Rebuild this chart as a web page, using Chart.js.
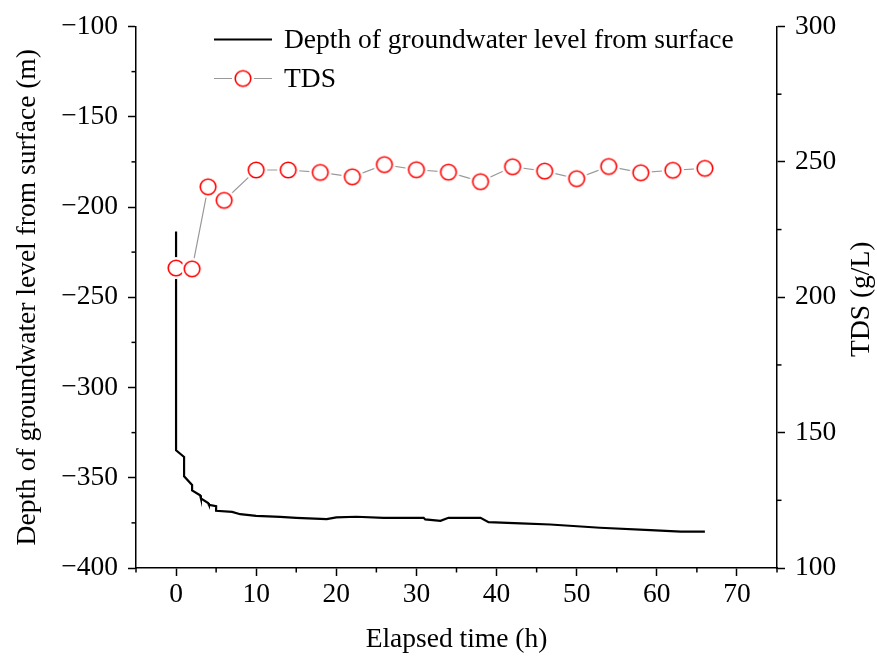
<!DOCTYPE html>
<html>
<head>
<meta charset="utf-8">
<script src="https://cdn.jsdelivr.net/npm/chart.js@4/dist/chart.umd.min.js"></script>
<style>
  html, body { margin: 0; padding: 0; background: #fff; }
  #wrap { width: 877px; height: 657px; }
</style>
</head>
<body>
<div id="wrap"><canvas id="c" width="877" height="657"></canvas></div>
<script>
// ---- Data ----
const depthTime  = [0, 0, 1, 1, 2, 2, 3, 3.1, 4, 4.1, 5, 5, 7, 8, 10, 13, 15, 18.8, 20, 22.5, 25.9, 30.9, 31.1, 33, 34, 38, 39, 43, 46.7, 52.9, 59.2, 63, 66];
const depthValue = [-213.6, -334.8, -338.5, -349.2, -354, -357, -359.7, -361.5, -364, -365, -365.7, -368.3, -368.9, -370.2, -371.1, -371.7, -372.2, -372.9, -372, -371.6, -372.2, -372.2, -373.1, -373.9, -372.2, -372.2, -374.6, -375.3, -375.9, -377.7, -379, -379.9, -379.9];

const tdsTime  = [0, 2, 4, 6, 10, 14, 18, 22, 26, 30, 34, 38, 42, 46, 50, 54, 58, 62, 66];
const tdsValue = [210.8, 210.5, 240.8, 235.8, 247.0, 247.0, 246.1, 244.5, 249.0, 247.1, 246.2, 242.7, 248.2, 246.6, 243.8, 248.3, 246.0, 246.9, 247.6];

const xTicks  = [0, 10, 20, 30, 40, 50, 60, 70];
const yTicks  = [-400, -350, -300, -250, -200, -150, -100];
const y1Ticks = [100, 150, 200, 250, 300];

const seriesNames = ['Depth of groundwater level from surface', 'TDS'];
const xTitle = 'Elapsed time (h)';
const yTitle = 'Depth of groundwater level from surface (m)';
const y1Title = 'TDS (g/L)';

const xRange = [-5, 75];
const yRange = [-400, -100];
const y1Range = [100, 300];

// ---- Styling ----
const FONT = '"Liberation Serif", "Times New Roman", serif';
const FS = 27.5;
const fmt = v => (v < 0 ? '\u2212' + Math.abs(v) : String(v));

// open red circle with a thin white halo (line stops short of the marker)
function makeMarker() {
  const c = document.createElement('canvas');
  const size = 24; c.width = size; c.height = size;
  const g = c.getContext('2d');
  g.beginPath(); g.arc(size / 2, size / 2, 11, 0, Math.PI * 2);
  g.fillStyle = '#fff'; g.fill();
  g.beginPath(); g.arc(size / 2, size / 2, 7.8, 0, Math.PI * 2);
  g.strokeStyle = '#ff0000'; g.lineWidth = 1.6; g.stroke();
  return c;
}
const marker = makeMarker();

const minorTicks = {
  id: 'minorTicks',
  afterDraw(chart) {
    const ctx = chart.ctx;
    ctx.save();
    ctx.strokeStyle = '#000';
    ctx.lineWidth = 1.5;
    const len = 4.5;
    const draw = (scale, majors, kind) => {
      const step = majors[1] - majors[0];
      for (let v = majors[0] - step / 2; v <= scale.max + 1e-9; v += step) {
        if (v < scale.min - 1e-9) continue;
        const p = scale.getPixelForValue(v);
        ctx.beginPath();
        if (kind === 'x') { ctx.moveTo(p, scale.top); ctx.lineTo(p, scale.top + len); }
        else if (kind === 'left') { ctx.moveTo(scale.right, p); ctx.lineTo(scale.right - len, p); }
        else { ctx.moveTo(scale.left, p); ctx.lineTo(scale.left + len, p); }
        ctx.stroke();
      }
    };
    draw(chart.scales.x, xTicks, 'x');
    draw(chart.scales.y, yTicks, 'left');
    draw(chart.scales.y1, y1Ticks, 'right');
    ctx.restore();
  }
};

const customText = {
  id: 'customText',
  afterDraw(chart) {
    const ctx = chart.ctx, a = chart.chartArea;
    ctx.save();
    ctx.font = FS + 'px ' + FONT;
    ctx.textBaseline = 'middle';
    ctx.textAlign = 'left';
    const lx0 = a.left + 78, lx1 = a.left + 136, tx = a.left + 148;
    const y1 = a.top + 13, y2 = a.top + 52;
    // legend item 1
    ctx.strokeStyle = '#000'; ctx.lineWidth = 2;
    ctx.beginPath(); ctx.moveTo(lx0, y1); ctx.lineTo(lx1, y1); ctx.stroke();
    ctx.fillStyle = '#000';
    ctx.fillText(seriesNames[0], tx, y1 + 1);
    // legend item 2
    ctx.strokeStyle = '#999'; ctx.lineWidth = 1.2;
    ctx.beginPath(); ctx.moveTo(lx0, y2); ctx.lineTo(lx1, y2); ctx.stroke();
    const mx = (lx0 + lx1) / 2;
    ctx.drawImage(marker, mx - marker.width / 2, y2 - marker.height / 2);
    ctx.fillStyle = '#000';
    ctx.fillText(seriesNames[1], tx, y2 + 1);
    // right axis title, reading bottom-to-top
    const s = chart.scales.y1;
    ctx.translate(s.right - 15, (a.top + a.bottom) / 2 + 2);
    ctx.rotate(-Math.PI / 2);
    ctx.textAlign = 'center';
    ctx.fillText(y1Title, 0, 0);
    ctx.restore();
  }
};

const axisCommon = (min, max, majors, title, pos, pad) => ({
  type: 'linear',
  position: pos,
  min, max,
  afterBuildTicks: s => { s.ticks = majors.map(v => ({ value: v })); },
  border: { display: true, color: '#000', width: 1.5 },
  grid: { display: true, drawOnChartArea: false, drawTicks: true, tickLength: 8, tickColor: '#000', tickWidth: 1.5 },
  ticks: { color: '#000', font: { family: FONT, size: FS }, padding: 10, callback: v => fmt(v), autoSkip: false, maxRotation: 0 },
  title: { display: !!title, text: title, color: '#000', font: { family: FONT, size: FS }, padding: pad }
});

const xAxis = axisCommon(xRange[0], xRange[1], xTicks, xTitle, 'bottom', { top: 0, bottom: 1 });
xAxis.ticks.padding = 2;
xAxis.afterFit = s => { s.height = 89; };

const yAxis = axisCommon(yRange[0], yRange[1], yTicks, yTitle, 'left', { top: 11.5, bottom: 0 });
yAxis.afterFit = s => { s.width = 136; };

const y1Axis = axisCommon(y1Range[0], y1Range[1], y1Ticks, '', 'right', { top: 0, bottom: 0 });
y1Axis.afterFit = s => { s.width = 100; };

new Chart(document.getElementById('c'), {
  type: 'line',
  data: {
    datasets: [
      {
        label: seriesNames[0],
        data: depthTime.map((t, i) => ({ x: t, y: depthValue[i] })),
        yAxisID: 'y',
        borderColor: '#000',
        borderWidth: 2.2,
        pointRadius: 0,
        tension: 0,
        order: 2
      },
      {
        label: seriesNames[1],
        data: tdsTime.map((t, i) => ({ x: t, y: tdsValue[i] })),
        yAxisID: 'y1',
        borderColor: '#999',
        borderWidth: 1.2,
        pointStyle: marker,
        pointRadius: 8,
        tension: 0,
        order: 1
      }
    ]
  },
  options: {
    responsive: false,
    animation: false,
    devicePixelRatio: 1,
    layout: { padding: { top: 25, left: 0, right: 0, bottom: 0 } },
    plugins: { legend: { display: false }, tooltip: { enabled: false } },
    scales: { x: xAxis, y: yAxis, y1: y1Axis }
  },
  plugins: [minorTicks, customText]
});
</script>
</body>
</html>
